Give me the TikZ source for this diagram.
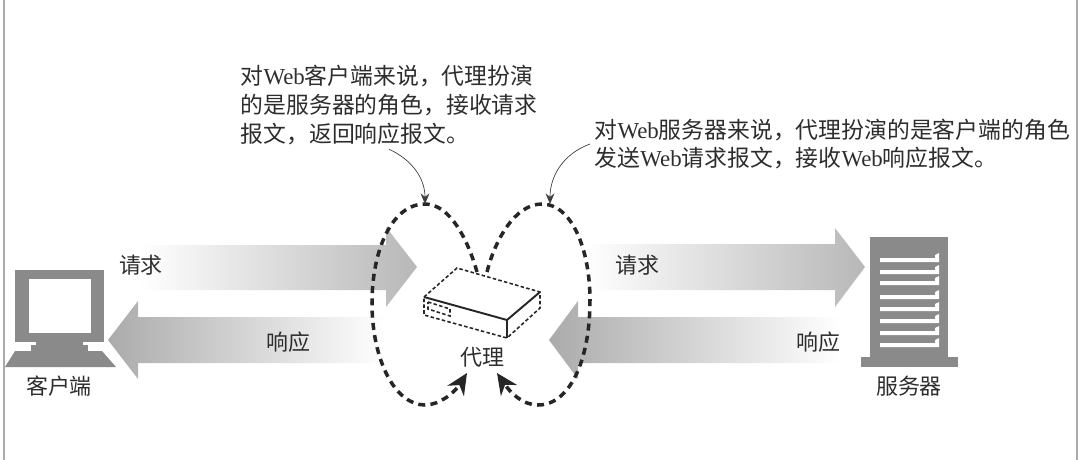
\documentclass[tikz,border=0pt]{standalone}
\usepackage{fontspec}
\setmainfont{Liberation Serif}
\newfontfamily\cjk{Noto Sans CJK SC}
\usetikzlibrary{arrows.meta}
\definecolor{framegray}{RGB}{170, 170, 170}
\definecolor{icongray}{RGB}{138, 138, 138}
\definecolor{textgray}{RGB}{45, 45, 45}
\begin{document}
\begin{tikzpicture}[
    x=0.02cm, y=-0.02cm,
    label/.style={inner sep=0pt, text=textgray, font=\fontsize{12.5}{15}\selectfont\cjk},
    note/.style={inner sep=2.5pt, align=left, anchor=west, text=textgray, font=\fontsize{13}{16.3}\selectfont},
    reqarrow/.style={left color=white, middle color=black!15, right color=black!28},
    resarrow/.style={left color=black!33, middle color=black!18, right color=white},
    icon/.style={fill=icongray, draw=none},
    slot/.style={fill=white, draw=none},
    boxsolid/.style={line width=1.1pt, black!85},
    boxdash/.style={line width=0.9pt, black!85, dash pattern=on 2pt off 1.3pt},
    ring/.style={line width=2pt, black!85, dash pattern=on 4pt off 3pt},
    ringend/.style={ring, -{Stealth[length=12pt, width=11pt]}},
    pointer/.style={line width=0.4pt, black!75, -{Stealth[length=6pt, width=5pt]}}
]
    \useasboundingbox (0,0) rectangle (1080,460);

    % Frame
    \draw[framegray, line width=1.3pt] (4,0) -- (4,460);
    \draw[framegray, line width=1.3pt] (1077,0) -- (1077,460);

    % Client side arrows
    \shade[reqarrow] (140,245) -- (386,245) -- (386,227) -- (417,267) -- (386,307) -- (386,290) -- (140,290) -- cycle;
    \shade[resarrow] (108,340) -- (138,301) -- (138,317) -- (385,317) -- (385,363) -- (138,363) -- (138,379) -- cycle;

    % Server side arrows
    \shade[reqarrow] (585,244) -- (835,244) -- (835,228) -- (865,267) -- (835,307) -- (835,290) -- (585,290) -- cycle;
    \shade[resarrow] (549,340) -- (578,301) -- (578,317) -- (840,317) -- (840,363) -- (578,363) -- (578,379) -- cycle;

    % Client
    \fill[icon] (15,270) rectangle (104,342);
    \fill[white] (29,279) rectangle (91,333);
    \fill[icon] (36,342) rectangle (83,345);
    \fill[icon] (31,345) rectangle (88,351);
    \fill[icon] (15,351) -- (102,351) -- (116,367) -- (5,367) -- cycle;
    \node[label] (client) at (59,386) {客户端};

    % Server
    \fill[icon] (870,237) rectangle (948,357);
    \fill[icon] (861,357) rectangle (958,367);
    \foreach \y in {258,270,281,295,307,319,331,343} {
        \fill[slot] (880,\y) -- (935,\y) -- (935,\y-3) -- (939,\y-5) -- (939,\y+4) -- (880,\y+4) -- cycle;
    }
    \node[label] (server) at (909,386) {服务器};

    % Proxy
    \coordinate (lefttop) at (424,297);
    \coordinate (backtop) at (457,268);
    \coordinate (righttop) at (540,292);
    \coordinate (fronttop) at (507,320);
    \coordinate (frontbot) at (507,338);
    \coordinate (leftbot) at (424,315);
    \coordinate (rightbot) at (540,308);
    \draw[boxdash] (lefttop) -- (backtop) -- (righttop) -- (rightbot) -- (frontbot) -- (leftbot) -- (lefttop);
    \draw[boxsolid] (lefttop) -- (fronttop) -- (righttop);
    \draw[boxsolid] (fronttop) -- (frontbot);
    \draw[boxdash] (428,302) -- (450,309) -- (450,316) -- (428,309) -- cycle;
    \node[label] (proxy) at (482,357) {代理};

    % Labels
    \node[label] (req_client) at (141,265) {请求};
    \node[label] (res_client) at (288,342) {响应};
    \node[label] (req_server) at (637,265) {请求};
    \node[label] (res_server) at (818,342) {响应};

    % Notes
    \node[note] (note_client) at (236,105) {{\cjk 对}Web{\cjk 客户端来说，代理扮演}\\{\cjk 的是服务器的角色，接收请求}\\{\cjk 报文，返回响应报文。}};
    \node[note] (note_server) at (590,144) {{\cjk 对}Web{\cjk 服务器来说，代理扮演的是客户端的角色}\\{\cjk 发送}Web{\cjk 请求报文，接收}Web{\cjk 响应报文。}};

    % Loops
    \coordinate (leftstart) at (477,272);
    \coordinate (lefthigh) at (425,204);
    \coordinate (leftside) at (372,303);
    \coordinate (leftlow) at (425,405);
    \coordinate (leftend) at (467,373);
    \coordinate (rightstart) at (487,272);
    \coordinate (righthigh) at (542,204);
    \coordinate (rightside) at (590,300);
    \coordinate (rightlow) at (538,405);
    \coordinate (rightend) at (497,373);
    \draw[ringend] (leftstart) .. controls (468,240) and (450,204) .. (lefthigh) .. controls (392,204) and (372,250) .. (leftside) .. controls (372,360) and (395,405) .. (leftlow) .. controls (440,405) and (455,392) .. (leftend);
    \draw[ringend] (rightstart) .. controls (495,240) and (515,204) .. (righthigh) .. controls (572,204) and (590,250) .. (rightside) .. controls (590,360) and (570,405) .. (rightlow) .. controls (522,405) and (510,392) .. (rightend);

    % Pointers
    \draw[pointer] (note_client.south) to[out=-25, in=90] (lefthigh);
    \draw[pointer] (note_server.west) to[out=200, in=90] (550,204);
\end{tikzpicture}
\end{document}
